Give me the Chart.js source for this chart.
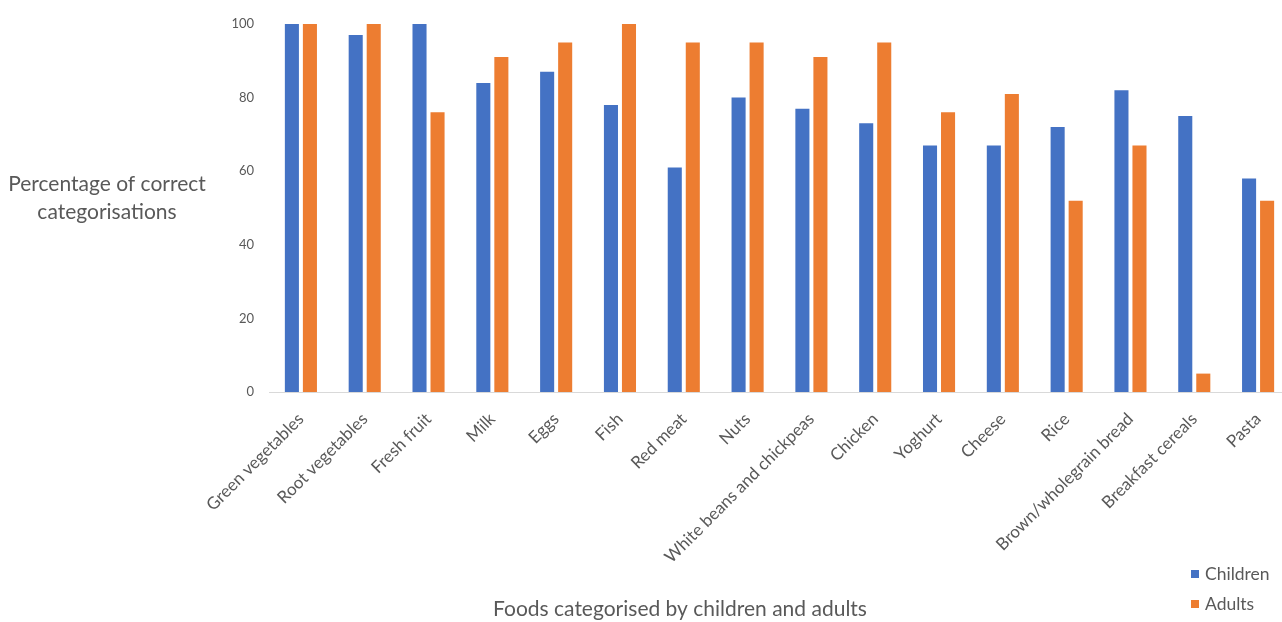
<!DOCTYPE html>
<html><head><meta charset="utf-8">
<script src="https://cdn.jsdelivr.net/npm/chart.js@4"></script>
<style>
html,body{margin:0;padding:0;overflow:hidden;background:#fff;width:1282px;height:622px}
#wrap{position:relative;width:1290px;height:622px}
</style></head><body><div id="wrap"><canvas id="c"></canvas></div>
<script>
const categories = ['Green vegetables','Root vegetables','Fresh fruit','Milk','Eggs','Fish','Red meat','Nuts','White beans and chickpeas','Chicken','Yoghurt','Cheese','Rice','Brown/wholegrain bread','Breakfast cereals','Pasta'];
const childrenValues = [100,97,100,84,87,78,61,80,77,73,67,67,72,82,75,58];
const adultsValues = [100,100,76,91,95,100,95,95,91,95,76,81,52,67,5,52];
const yTicks = [0,20,40,60,80,100];
const seriesNames = ['Children','Adults'];
const seriesColors = ['#4472C4','#ED7D31'];
const xTitle = 'Foods categorised by children and adults';
const yTitleLines = ['Percentage of correct','categorisations'];

const FONT = 'Lato, "Open Sans", sans-serif';
const GREY = '#595959';

const extras = {
  id: 'extras',
  afterDraw(chart) {
    const ctx = chart.ctx;
    ctx.save();
    ctx.fillStyle = GREY;
    ctx.textBaseline = 'middle';
    // y title (horizontal, two lines)
    ctx.font = '21px ' + FONT;
    ctx.textAlign = 'center';
    ctx.fillText(yTitleLines[0], 107, 184);
    ctx.fillText(yTitleLines[1], 107, 212);
    // x title
    ctx.font = '21px ' + FONT;
    ctx.fillText(xTitle, 680, 609);
    // legend
    ctx.font = '17.5px ' + FONT;
    ctx.textAlign = 'left';
    const ys = [574, 604];
    chart.data.datasets.forEach((ds, i) => {
      ctx.fillStyle = ds.backgroundColor;
      ctx.fillRect(1191, ys[i] - 4, 8, 8);
      ctx.fillStyle = GREY;
      ctx.fillText(ds.label, 1205, ys[i]);
    });
    ctx.restore();
  }
};

new Chart(document.getElementById('c'), {
  type: 'bar',
  data: {
    labels: categories,
    datasets: [
      {label: seriesNames[0], data: childrenValues, backgroundColor: seriesColors[0]},
      {label: seriesNames[1], data: adultsValues, backgroundColor: seriesColors[1]}
    ]
  },
  options: {
    responsive: true,
    maintainAspectRatio: false,
    animation: false,
    categoryPercentage: 0.565,
    barPercentage: 0.78,
    layout: {padding: {top: 24, left: 0, right: 0, bottom: 0}},
    plugins: {legend: {display: false}, tooltip: {enabled: false}},
    scales: {
      x: {
        grid: {display: false},
        border: {display: true, color: '#D9D9D9', width: 1},
        ticks: {
          color: GREY, font: {family: FONT, size: 17},
          maxRotation: 45, minRotation: 45, autoSkip: false, padding: 9
        },
        afterFit(s) { s.height = 230; }
      },
      y: {
        min: 0, max: 100,
        grid: {display: false},
        border: {display: false},
        afterBuildTicks(s) { s.ticks = yTicks.map(v => ({value: v})); },
        ticks: {color: GREY, font: {family: FONT, size: 13}, padding: 7},
        afterFit(s) { s.width = 269; }
      }
    }
  },
  plugins: [extras]
});
</script></body></html>
